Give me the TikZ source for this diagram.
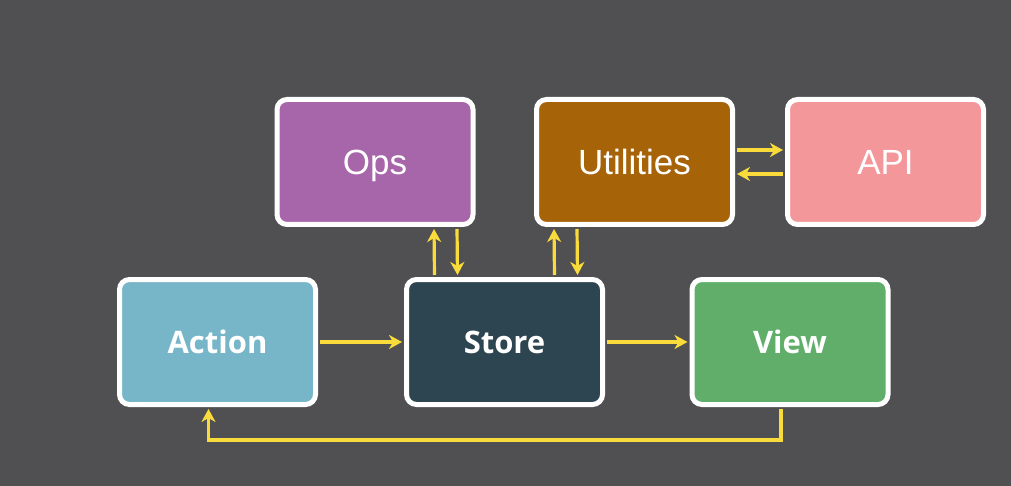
\documentclass[tikz,border=0pt]{standalone}
\usepackage{fontspec}
\setmainfont{Liberation Sans}
\newfontfamily\labelfont{Open Sans}
\usetikzlibrary{arrows.meta}
\definecolor{backdrop}{HTML}{505052}
\definecolor{wire}{HTML}{F9DC3B}
\definecolor{opsfill}{HTML}{A866AA}
\definecolor{utilfill}{HTML}{A66308}
\definecolor{apifill}{HTML}{F4979B}
\definecolor{actionfill}{HTML}{77B5C8}
\definecolor{storefill}{HTML}{2D4451}
\definecolor{viewfill}{HTML}{60AE6A}
\begin{document}
\begin{tikzpicture}[x=0.5pt,y=-0.5pt,
		every node/.style = {draw=white, line width=2.5pt, rounded corners=5pt,
		minimum width=98pt, minimum height=62.5pt, inner sep=0pt, text=white,
		text height=12.5pt, text depth=0pt},
		plain/.style = {font=\fontsize{17.5}{20}\selectfont},
		heavy/.style = {font=\fontsize{15.5}{19}\selectfont\labelfont\bfseries,
		text height=11.5pt},
		flow/.style = {draw=wire, line width=1.6pt, shorten >=1pt, shorten <=1pt,
		-{Stealth[length=6.5pt,width=7pt,inset=2pt]}}]

	\fill[backdrop] (0,0) rectangle (1011,486);

	% top row
	\node[plain, fill=opsfill] (ops) at (375,162) {Ops};
	\node[plain, fill=utilfill] (util) at (634.5,162) {Utilities};
	\node[plain, fill=apifill] (api) at (885.5,162) {API};

	% bottom row
	\node[heavy, fill=actionfill] (action) at (217.5,342) {Action};
	\node[heavy, fill=storefill] (store) at (504.5,342) {Store};
	\node[heavy, fill=viewfill] (view) at (790,342) {View};

	\draw[flow] (action.east) -- (store.west);
	\draw[flow] (store.east) -- (view.west);
	\draw[flow] ([xshift=-4.5pt]view.south) -- ++(0,33) -| ([xshift=-4.5pt]action.south);

	\draw[flow] ([xshift=-35pt]store.north) -- ([xshift=29.5pt]ops.south);
	\draw[flow] ([xshift=41pt]ops.south) -- ([xshift=-23.5pt]store.north);
	\draw[flow] ([xshift=25pt]store.north) -- ([xshift=-40.25pt]util.south);
	\draw[flow] ([xshift=-28.75pt]util.south) -- ([xshift=36.5pt]store.north);

	\draw[flow] ([yshift=6pt]util.east) -- ([yshift=6pt]api.west);
	\draw[flow] ([yshift=-6pt]api.west) -- ([yshift=-6pt]util.east);
\end{tikzpicture}
\end{document}
